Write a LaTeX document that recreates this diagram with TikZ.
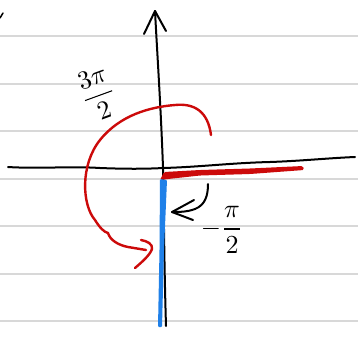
\documentclass[tikz,border=0pt]{standalone}
\usepackage{amsmath}
\definecolor{paperline}{HTML}{D8D8D8}
\definecolor{inkred}{HTML}{CC0A0A}
\definecolor{inkblue}{HTML}{1F80E8}
\tikzset{
  ruled/.style={paperline, line width=1.5pt},
  ink/.style={black, line width=2pt, line cap=round, line join=round},
  redink/.style={inkred, line width=2.4pt, line cap=round, line join=round},
  lbl/.style={inner sep=0pt, scale=2.6}
}
\begin{document}
\begin{tikzpicture}[x=1pt,y=-1pt]
\useasboundingbox (0,0) rectangle (358,338);
\fill[white] (0,0) rectangle (358,338);
% ruled paper
\foreach \yy in {36,84,131,179,226,274,321}
  \draw[ruled] (0,\yy) -- (358,\yy);
\draw[ink,line width=1.5pt] (0,18) -- (3,13);
% coordinates
\coordinate (O) at (163,168);
\coordinate (ytop) at (155,11);
\coordinate (ybot) at (166,326);
\coordinate (xl) at (8,167);
\coordinate (xr) at (355,157);
% vertical axis with arrow
\draw[ink] (ybot) .. controls (164,260) and (164,210) .. (O)
  .. controls (161,110) and (157,50) .. (ytop);
\draw[ink] (144,34) -- (ytop) -- (166,31);
% horizontal axis
\draw[ink] (xl) .. controls (40,169) and (70,166) .. (100,168)
  .. controls (125,169) and (145,169) .. (O)
  .. controls (200,167) and (230,163) .. (270,162)
  .. controls (300,161) and (330,158) .. (xr);
% red thick ray along positive x
\fill[inkred, rounded corners=1.5pt] (160,180) -- (164,172) -- (200,170) -- (250,168.5) -- (303,166)
  -- (304,170) -- (250,174) -- (200,175.5) -- (168,179) -- cycle;
% blue ray down
\fill[inkblue, rounded corners=1pt] (160,179) -- (167,180) -- (164,250) -- (162,327) -- (158,327) -- (159.5,250) -- cycle;
% red 3pi/2 arc
\draw[redink] (211,135) .. controls (208,112) and (195,103) .. (175,105)
  .. controls (150,107) and (120,115) .. (100,140)
  .. controls (80,165) and (82,205) .. (95,220)
  .. controls (100,228) and (104,232) .. (108,233)
  .. controls (110,240) and (118,245) .. (128,247)
  -- (146,250);
\draw[redink] (141,240) .. controls (147,241) and (153,244) .. (152,249)
  .. controls (150,255) and (142,262) .. (135,268);
% small black arrow for -pi/2
\draw[ink] (208,184) .. controls (208,196) and (205,205) .. (195,209)
  .. controls (187,212) and (180,212) .. (172,212);
\draw[ink] (194,200) -- (172,212) -- (193,220);
% labels
\node[lbl, rotate=20] (lthree) at (98,94) {$\dfrac{3\pi}{2}$};
\node[lbl] (lhalf) at (222,230) {$-\dfrac{\pi}{2}$};
\end{tikzpicture}
\end{document}
